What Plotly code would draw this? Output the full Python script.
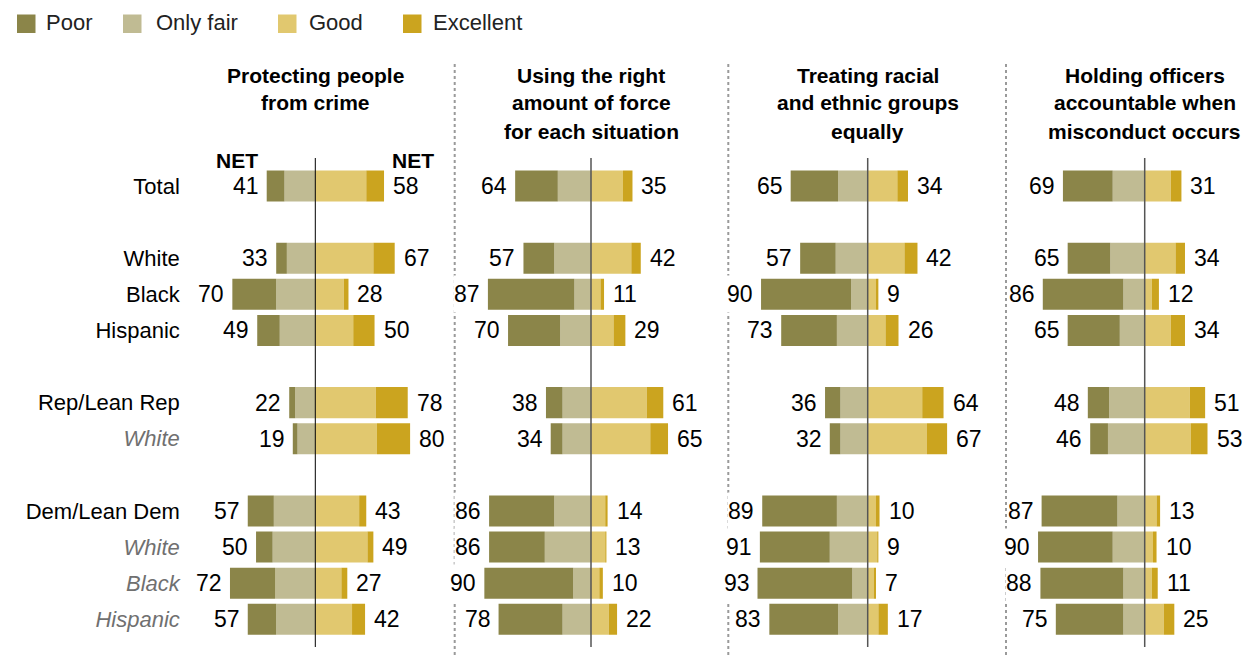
import plotly.graph_objects as go

# ---------------- data ----------------
row_labels = ["Total", "White", "Black", "Hispanic", "Rep/Lean Rep", "White",
              "Dem/Lean Dem", "White", "Black", "Hispanic"]
row_italic = [False, False, False, False, False, True, False, True, True, True]
row_pos = [0, 2, 3, 4, 6, 7, 9, 10, 11, 12]

panel_titles = [
    ["Protecting people", "from crime"],
    ["Using the right", "amount of force", "for each situation"],
    ["Treating racial", "and ethnic groups", "equally"],
    ["Holding officers", "accountable when", "misconduct occurs"],
]

series_names = ["Poor", "Only fair", "Good", "Excellent"]
series_colors = ["#8b8549", "#c0bb93", "#e1c86f", "#cba41f"]

poor_1 = [15, 9, 37, 19, 5, 4, 22, 14, 38, 24]
fair_1 = [26, 24, 33, 30, 17, 15, 35, 36, 34, 33]
good_1 = [43, 49, 24, 32, 51, 52, 37, 44, 22, 31]
exc_1 = [15, 18, 4, 18, 27, 28, 6, 5, 5, 11]

poor_2 = [36, 26, 73, 44, 14, 10, 55, 47, 75, 54]
fair_2 = [28, 31, 14, 26, 24, 24, 31, 39, 15, 24]
good_2 = [27, 34, 8, 19, 47, 50, 12, 12, 7, 15]
exc_2 = [8, 8, 3, 10, 14, 15, 2, 1, 3, 7]

poor_3 = [40, 30, 76, 47, 13, 9, 63, 59, 80, 58]
fair_3 = [25, 27, 14, 26, 23, 23, 26, 32, 13, 25]
good_3 = [25, 31, 7, 15, 46, 50, 7, 8, 5, 9]
exc_3 = [9, 11, 2, 11, 18, 17, 3, 1, 2, 8]

poor_4 = [42, 36, 68, 44, 18, 15, 64, 63, 70, 57]
fair_4 = [27, 29, 18, 21, 30, 31, 23, 27, 18, 18]
good_4 = [22, 26, 6, 22, 38, 39, 10, 7, 6, 16]
exc_4 = [9, 8, 6, 12, 13, 14, 3, 3, 5, 9]

net_neg_1 = [41, 33, 70, 49, 22, 19, 57, 50, 72, 57]
net_pos_1 = [58, 67, 28, 50, 78, 80, 43, 49, 27, 42]
net_neg_2 = [64, 57, 87, 70, 38, 34, 86, 86, 90, 78]
net_pos_2 = [35, 42, 11, 29, 61, 65, 14, 13, 10, 22]
net_neg_3 = [65, 57, 90, 73, 36, 32, 89, 91, 93, 83]
net_pos_3 = [34, 42, 9, 26, 64, 67, 10, 9, 7, 17]
net_neg_4 = [69, 65, 86, 65, 48, 46, 87, 90, 88, 75]
net_pos_4 = [31, 34, 12, 34, 51, 53, 13, 10, 11, 25]

panels = [
    (poor_1, fair_1, good_1, exc_1, net_neg_1, net_pos_1),
    (poor_2, fair_2, good_2, exc_2, net_neg_2, net_pos_2),
    (poor_3, fair_3, good_3, exc_3, net_neg_3, net_pos_3),
    (poor_4, fair_4, good_4, exc_4, net_neg_4, net_pos_4),
]

# ---------------- layout geometry (window pixels) ----------------
W, H = 1248, 658
FONT = "Liberation Sans, Arial, sans-serif"
centers_px = [315.3, 591.0, 867.7, 1144.7]
scale = 1.185  # px per percentage point
x_lo = -100
x_his = [85, 85, 85, 85]


def px(p):
    return p / W


def py(p):
    return 1 - p / H


fig = go.Figure()
annotations = []
shapes = []

for k, (poor, fair, good, exc, nneg, npos) in enumerate(panels):
    xa = "x" if k == 0 else f"x{k + 1}"
    seg = [
        ([-v for v in fair], series_colors[1], series_names[1]),
        ([-v for v in poor], series_colors[0], series_names[0]),
        (good, series_colors[2], series_names[2]),
        (exc, series_colors[3], series_names[3]),
    ]
    for vals, col, name in seg:
        fig.add_trace(go.Bar(
            x=vals, y=row_pos, orientation="h", name=name,
            marker=dict(color=col, line=dict(width=0)),
            xaxis=xa, yaxis="y", showlegend=False, hoverinfo="skip"))

    left_end = [-(p + f) for p, f in zip(poor, fair)]
    right_end = [g + e for g, e in zip(good, exc)]
    for i, pos in enumerate(row_pos):
        annotations.append(dict(
            x=left_end[i], y=pos, xref=xa, yref="y", text=str(nneg[i]),
            xanchor="right", yanchor="middle", xshift=-7, showarrow=False,
            font=dict(family=FONT, size=23, color="#000"),
            bgcolor="white", height=36, borderpad=0))
        annotations.append(dict(
            x=right_end[i], y=pos, xref=xa, yref="y", text=str(npos[i]),
            xanchor="left", yanchor="middle", xshift=7, showarrow=False,
            font=dict(family=FONT, size=23, color="#000")))

    # titles
    for j, line in enumerate(panel_titles[k]):
        annotations.append(dict(
            x=0, y=py(75 + 28 * j), xref=xa, yref="paper", text=f"<b>{line}</b>",
            xanchor="center", yanchor="middle", showarrow=False, xshift=0,
            font=dict(family=FONT, size=21, color="#000")))

    # zero line
    shapes.append(dict(
        type="line", xref=xa, yref="paper", x0=0, x1=0, y0=py(158), y1=py(647),
        line=dict(color="#000" if k == 0 else "#555", width=1 if k == 0 else 1.5),
        layer="above"))

# NET headers over the first panel's Total row
annotations.append(dict(
    x=-(poor_1[0] + fair_1[0]), y=py(161), xref="x", yref="paper", text="<b>NET</b>",
    xanchor="right", yanchor="middle", xshift=-7, showarrow=False,
    font=dict(family=FONT, size=21, color="#000")))
annotations.append(dict(
    x=good_1[0] + exc_1[0], y=py(161), xref="x", yref="paper", text="<b>NET</b>",
    xanchor="left", yanchor="middle", xshift=6, showarrow=False,
    font=dict(family=FONT, size=21, color="#000")))

# dotted separators
for sx in [454.7, 728.3, 1006.0]:
    shapes.append(dict(
        type="line", xref="paper", yref="paper", x0=px(sx), x1=px(sx),
        y0=py(64), y1=0, line=dict(color="#9a9a9a", width=2, dash="dot"),
        layer="below"))

# manual legend
leg_sq_x = [17, 123, 278, 403]
leg_tx_x = [44, 153.5, 306.5, 431]
for si, (sqx, tx) in enumerate(zip(leg_sq_x, leg_tx_x)):
    shapes.append(dict(
        type="rect", xref="paper", yref="paper",
        x0=px(sqx), x1=px(sqx + 18.5), y0=py(33), y1=py(14.5),
        fillcolor=series_colors[si], line=dict(width=0)))
    annotations.append(dict(
        x=px(tx), y=py(23), xref="paper", yref="paper", text=series_names[si],
        xanchor="left", yanchor="middle", showarrow=False,
        font=dict(family=FONT, size=22, color="#222")))

ticktext = []
for lab, it in zip(row_labels, row_italic):
    if it:
        ticktext.append(f"<i><span style='color:#707070'>{lab}</span></i>")
    else:
        ticktext.append(lab)

layout_axes = {}
for k in range(4):
    c = centers_px[k]
    d0 = px(c + x_lo * scale)
    d1 = min(px(c + x_his[k] * scale), 1.0)
    key = "xaxis" if k == 0 else f"xaxis{k + 1}"
    layout_axes[key] = dict(
        domain=[d0, d1], range=[x_lo, x_his[k]], visible=False, fixedrange=True,
        anchor="y")

row_top = 186 - 18.05
row_bot = 619.3 + 18.05
fig.update_layout(
    width=W, height=H,
    margin=dict(l=0, r=0, t=0, b=0),
    paper_bgcolor="white", plot_bgcolor="white",
    barmode="relative", bargap=0.14,
    showlegend=False,
    yaxis=dict(
        domain=[py(row_bot), py(row_top)], range=[12.5, -0.5],
        tickvals=row_pos, ticktext=ticktext, ticks="", showgrid=False,
        zeroline=False, showline=False, anchor="x", fixedrange=True,
        tickfont=dict(family=FONT, size=22, color="#000"),
        ticklabelstandoff=16),
    annotations=annotations,
    shapes=shapes,
    **layout_axes,
)

# remove the default 8px page margin so the figure fills the window exactly
fig.write_html(
    "out.html",
    config={"displayModeBar": False, "staticPlot": True},
    post_script="document.body.style.margin='0';"
                "document.body.style.overflow='hidden';",
)
